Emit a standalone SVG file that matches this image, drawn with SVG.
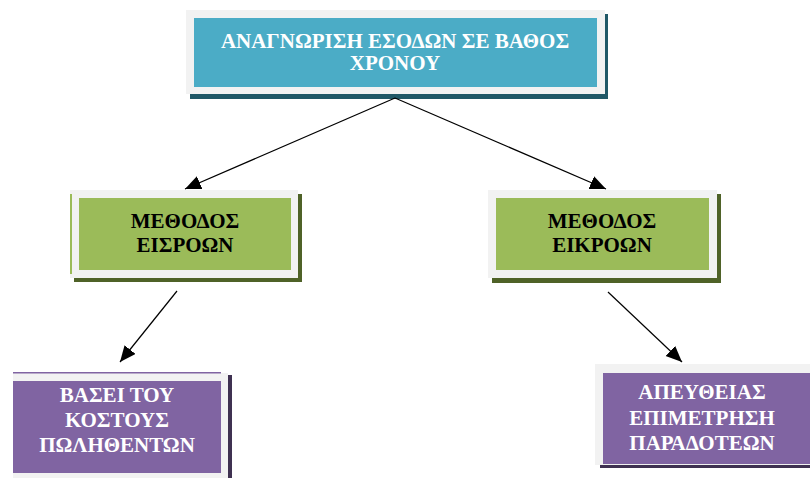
<svg xmlns="http://www.w3.org/2000/svg" width="810" height="478" viewBox="0 0 810 478">
<defs>
<style>
.frame{fill:#F2F2F2}
.t{font-family:"Liberation Serif","Times New Roman",serif;font-weight:700;font-size:21px;text-anchor:middle}
.w{fill:#FFFFFF}
.k{fill:#000000}
.conn line{stroke:#000;stroke-width:1.2;marker-end:url(#ah)}
</style>
<marker id="ah" markerUnits="userSpaceOnUse" markerWidth="18" markerHeight="16" refX="16" refY="7" orient="auto">
<path d="M0,0 L16,7 L0,14 z" fill="#000"/>
</marker>
</defs>
<rect width="810" height="478" fill="#FFFFFF"/>
<g id="top">
<rect x="190" y="14" width="418" height="85" fill="#205867"/>
<rect class="frame" x="186" y="10" width="419" height="84"/>
<rect x="194" y="18" width="403" height="69" fill="#4BACC6"/>
<text class="t w" x="395" y="48">ΑΝΑΓΝΩΡΙΣΗ ΕΣΟΔΩΝ ΣΕ ΒΑΘΟΣ</text>
<text class="t w" x="395" y="70">ΧΡΟΝΟΥ</text>
</g>
<g id="inputs">
<rect x="74" y="194" width="228" height="88" fill="#4F6228"/>
<rect class="frame" x="70" y="190" width="228" height="88"/>
<rect x="70" y="194" width="2" height="80" fill="#9BBB59"/>
<rect x="79" y="198" width="212" height="72" fill="#9BBB59"/>
<text class="t k" x="185" y="228">ΜΕΘΟΔΟΣ</text>
<text class="t k" x="185" y="252">ΕΙΣΡΟΩΝ</text>
</g>
<g id="outputs">
<rect x="492" y="194" width="229" height="89" fill="#4F6228"/>
<rect class="frame" x="488" y="190" width="229" height="88"/>
<rect x="496" y="198" width="213" height="72" fill="#9BBB59"/>
<text class="t k" x="602" y="228">ΜΕΘΟΔΟΣ</text>
<text class="t k" x="602" y="252">ΕΙΚΡΟΩΝ</text>
</g>
<g id="cost">
<rect x="17" y="375" width="215" height="103" fill="#3F3151"/>
<rect class="frame" x="13" y="373" width="215" height="105"/>
<rect x="13" y="372" width="208" height="1.5" fill="#8064A2"/>
<rect x="13" y="381" width="208" height="92" fill="#8064A2"/>
<text class="t w" x="117" y="402">ΒΑΣΕΙ ΤΟΥ</text>
<text class="t w" x="117" y="427">ΚΟΣΤΟΥΣ</text>
<text class="t w" x="117" y="452">ΠΩΛΗΘΕΝΤΩΝ</text>
</g>
<g id="direct">
<rect x="600" y="368" width="210" height="100" fill="#3F3151"/>
<rect class="frame" x="595" y="364" width="215" height="101"/>
<rect x="603" y="373" width="207" height="91" fill="#8064A2"/>
<text class="t w" x="702" y="399">ΑΠΕΥΘΕΙΑΣ</text>
<text class="t w" x="702" y="425">ΕΠΙΜΕΤΡΗΣΗ</text>
<text class="t w" x="702" y="450">ΠΑΡΑΔΟΤΕΩΝ</text>
</g>
<g id="connectors" class="conn">
<line x1="395" y1="98" x2="185" y2="189"/>
<line x1="395" y1="98" x2="606" y2="189"/>
<line x1="177" y1="291" x2="120" y2="362"/>
<line x1="608" y1="292" x2="682" y2="362"/>
</g>
</svg>
